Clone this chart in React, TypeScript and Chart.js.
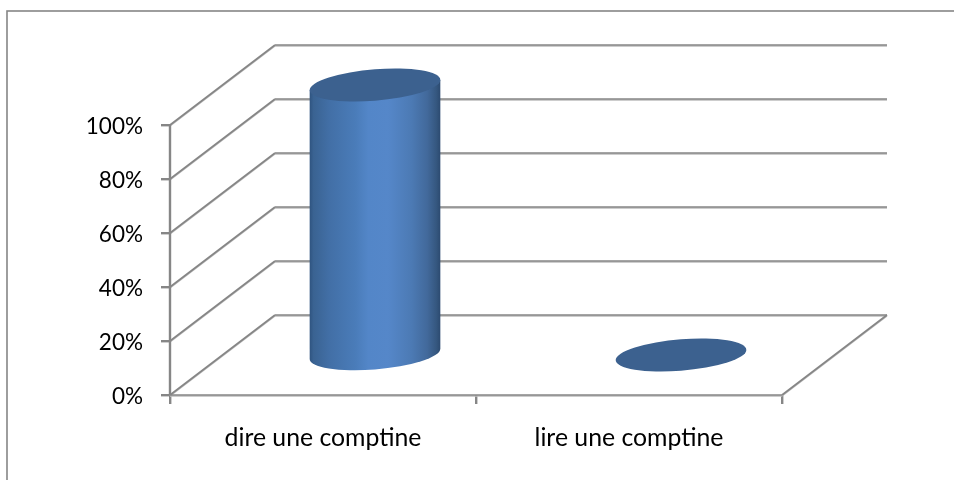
import { useEffect, useRef } from "react";
import { Chart, BarController, BarElement, CategoryScale, LinearScale } from "chart.js";

const categories = ["dire une comptine", "lire une comptine"];
const shares = [100, 0];
const axisMax = 100;
const axisStep = 20;

// Oblique projection of the 3D box: how far the back wall sits from the front plane.
const DEPTH_X = 105;
const DEPTH_Y = 80;
const LINE_DARK = "#868686";
const LINE_LIGHT = "#bdbdbd";
const CAP_COLOR = "#3c618f";
const FONT = "Lato";

// Bar element painted as a sheared cylinder standing in the middle of the floor.
class CylinderElement extends BarElement {
  static id = "cylinder";

  draw(ctx: CanvasRenderingContext2D) {
    const { x, y, base, width } = this as any;
    const cx = x + DEPTH_X / 2 - 0.5;
    const top = y - DEPTH_Y / 2;
    const bottom = base - DEPTH_Y / 2;
    const a = width / 2;
    const b = a * 0.24;
    const shear = -0.078;

    const capPath = (cy: number, start = 0, end = Math.PI * 2) => {
      ctx.setTransform(1, shear, 0, 1, cx, cy);
      ctx.ellipse(0, 0, a, b, 0, start, end);
      ctx.setTransform(1, 0, 0, 1, 0, 0);
    };

    ctx.save();
    if (bottom - top > 1) {
      const side = ctx.createLinearGradient(cx - a, 0, cx + a, 0);
      side.addColorStop(0, "#2f5480");
      side.addColorStop(0.03, "#3a6392");
      side.addColorStop(0.15, "#426fa6");
      side.addColorStop(0.35, "#4a7cb9");
      side.addColorStop(0.45, "#5386c8");
      side.addColorStop(0.6, "#5587c9");
      side.addColorStop(0.78, "#4c7ab4");
      side.addColorStop(0.9, "#42699b");
      side.addColorStop(0.97, "#35577f");
      side.addColorStop(1, "#2c4a70");
      ctx.fillStyle = side;
      ctx.beginPath();
      capPath(bottom, 0, Math.PI);
      ctx.lineTo(cx - a, top - shear * a);
      ctx.lineTo(cx + a, top + shear * a);
      ctx.closePath();
      ctx.fill();
    }
    ctx.fillStyle = CAP_COLOR;
    ctx.beginPath();
    capPath(top);
    ctx.fill();
    ctx.restore();
  }
}

class CylinderController extends BarController {
  static id = "cylinder";
  static defaults = { dataElementType: "cylinder" };
}

const strokeDouble = (ctx: CanvasRenderingContext2D, x0: number, y0: number, x1: number, y1: number) => {
  const run = (color: string, shift: number, w: number) => {
    ctx.strokeStyle = color;
    ctx.lineWidth = w;
    ctx.beginPath();
    ctx.moveTo(x0, y0 + shift);
    ctx.lineTo(x1, y1 + shift);
    ctx.stroke();
  };
  run(LINE_LIGHT, 1, 1.5);
  run(LINE_DARK, 0, 1.6);
};

// Outer chart frame, running off the right and bottom of the canvas.
const framePlugin = {
  id: "frame",
  beforeDraw(chart: Chart) {
    const { ctx, width, height } = chart;
    ctx.save();
    ctx.strokeStyle = LINE_DARK;
    ctx.lineWidth = 1.6;
    ctx.strokeRect(7, 11, width + 10, height + 10);
    ctx.restore();
  },
};

// Value axis, side wall diagonals, back wall gridlines and the floor outline, taken from the scales.
const wallsPlugin = {
  id: "walls",
  beforeDatasetsDraw(chart: Chart) {
    const { ctx, chartArea } = chart;
    const { left, right, top, bottom } = chartArea;
    const yScale = chart.scales.y;
    ctx.save();
    for (const tick of yScale.ticks) {
      const py = yScale.getPixelForValue(tick.value);
      strokeDouble(ctx, left, py, left + DEPTH_X, py - DEPTH_Y);
      strokeDouble(ctx, left + DEPTH_X, py - DEPTH_Y, right + DEPTH_X, py - DEPTH_Y);
    }
    const floor = yScale.getPixelForValue(0);
    strokeDouble(ctx, left, floor, right, floor);
    strokeDouble(ctx, right, floor, right + DEPTH_X, floor - DEPTH_Y);
    ctx.strokeStyle = LINE_DARK;
    ctx.lineWidth = 2.4;
    ctx.beginPath();
    ctx.moveTo(left, top);
    ctx.lineTo(left, bottom);
    ctx.stroke();
    ctx.restore();
  },
};

Chart.register(CategoryScale, LinearScale, BarController, BarElement, CylinderElement, CylinderController);

export default function App() {
  const ref = useRef<HTMLCanvasElement>(null);

  useEffect(() => {
    const chart = new Chart(ref.current!, {
      type: "cylinder" as any,
      data: {
        labels: categories,
        datasets: [
          {
            data: shares,
            clip: false,
            categoryPercentage: 1,
            barPercentage: 0.427,
            backgroundColor: CAP_COLOR,
          } as any,
        ],
      },
      plugins: [framePlugin, wallsPlugin],
      options: {
        animation: false,
        responsive: false,
        events: [],
        layout: { padding: { left: 0, top: 125, right: 172, bottom: 0 } },
        plugins: { legend: { display: false }, tooltip: { enabled: false } },
        scales: {
          x: {
            afterFit: (s: any) => {
              s.height = 85;
            },
            border: { display: false },
            grid: { drawOnChartArea: false, color: LINE_DARK, lineWidth: 2.4, tickLength: 9 },
            ticks: { color: "#000", padding: 19, maxRotation: 0, font: { family: FONT, size: 24.8 } },
          },
          y: {
            min: 0,
            max: axisMax,
            afterFit: (s: any) => {
              s.width = 170;
            },
            border: { display: false },
            grid: { drawOnChartArea: false, color: LINE_DARK, lineWidth: 2.4, tickLength: 9 },
            ticks: {
              stepSize: axisStep,
              color: "#000",
              padding: 18,
              labelOffset: 1.5,
              font: { family: FONT, size: 22.5 },
              callback: (v: any) => `${v}%`,
            },
          },
        },
      },
    } as any);
    return () => chart.destroy();
  }, []);

  return (
    <div style={{ position: "fixed", left: 0, top: 0, width: 954, height: 480, background: "#fff" }}>
      <canvas ref={ref} width={954} height={480} style={{ display: "block" }} />
    </div>
  );
}
